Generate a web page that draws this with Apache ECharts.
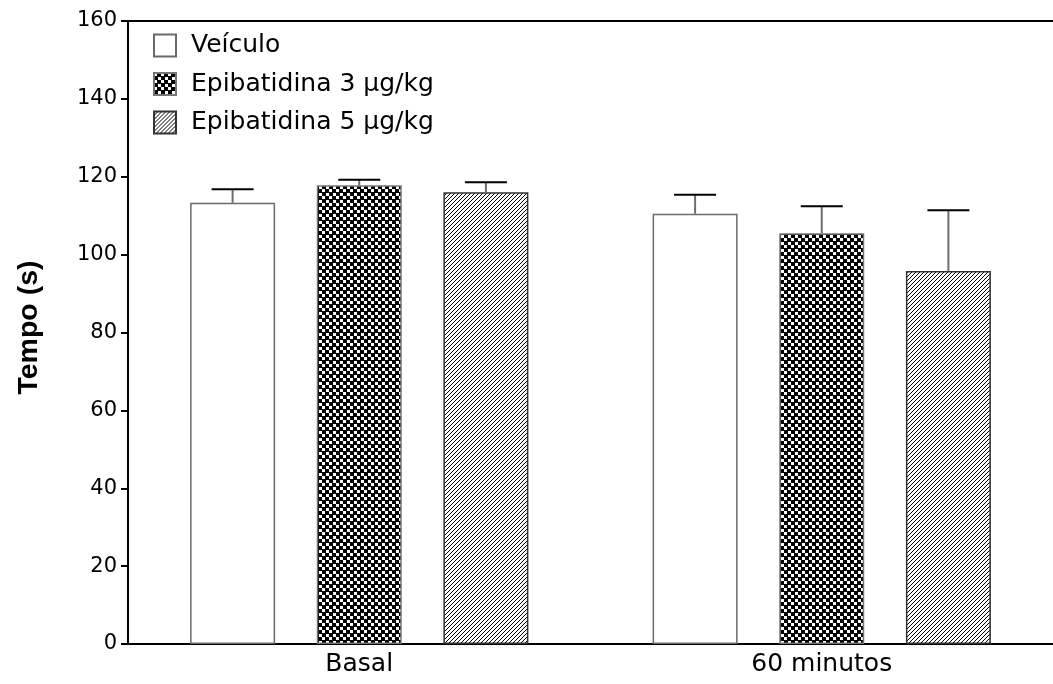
<!DOCTYPE html>
<html>
<head>
<meta charset="utf-8">
<script src="https://cdn.jsdelivr.net/npm/echarts@6/dist/echarts.min.js"></script>
<style>
  html, body { margin: 0; padding: 0; background: #fff; }
  #chart { width: 1053px; height: 684px; }
</style>
</head>
<body>
<div id="chart"></div>
<script>
// Tail-flick latency (mean ± SEM) per treatment group
const categories = ['Basal', '60 minutos'];
const seriesNames = ['Veículo', 'Epibatidina 3 μg/kg', 'Epibatidina 5 μg/kg'];
const veiculo = [113.3, 110.5];
const epi3 = [117.8, 105.5];
const epi5 = [116.0, 95.8];
const veiculoSem = [3.5, 4.9];
const epi3Sem = [1.4, 6.9];
const epi5Sem = [2.6, 15.6];
const yTicks = { min: 0, max: 160, interval: 20 };

const FONT = '"Liberation Sans", Arial, sans-serif';
const WIDE_FONT = '"DejaVu Sans", "Liberation Sans", sans-serif';
const BAR_W = 85;
const BAR_GAP = 0.49;
const CAP_HALF = 21;

// Checkerboard fill: white squares on black
function checkerPattern() {
  const c = document.createElement('canvas');
  c.width = 7; c.height = 7;
  const g = c.getContext('2d');
  g.fillStyle = '#000'; g.fillRect(0, 0, 7, 7);
  g.fillStyle = '#fff';
  g.fillRect(0, 0, 3, 3);
  g.fillRect(4, 4, 3, 3);
  return c;
}

// Diagonal hatch fill, lines rising to the right
function hatchPattern() {
  const c = document.createElement('canvas');
  c.width = 8; c.height = 8;
  const g = c.getContext('2d');
  g.fillStyle = '#fff'; g.fillRect(0, 0, 8, 8);
  g.strokeStyle = '#000'; g.lineWidth = 1;
  for (let k = -3; k <= 3; k++) {
    g.beginPath();
    g.moveTo(k * 4, 8);
    g.lineTo(k * 4 + 8, 0);
    g.stroke();
  }
  return c;
}

const fills = [
  '#ffffff',
  { image: checkerPattern(), repeat: 'repeat' },
  { image: hatchPattern(), repeat: 'repeat' }
];
const borders = ['#6a6a6a', '#777777', '#333333'];
const means = [veiculo, epi3, epi5];
const sems = [veiculoSem, epi3Sem, epi5Sem];

const barSeries = means.map((vals, i) => ({
  type: 'bar',
  name: seriesNames[i],
  data: vals,
  barWidth: BAR_W,
  barGap: (BAR_GAP * 100) + '%',
  itemStyle: { color: fills[i], borderColor: borders[i], borderWidth: 1.5 },
  emphasis: { disabled: true },
  z: 2
}));

// Error bars: grey stem from bar top, black cap at mean + SEM
const errorSeries = means.map((vals, i) => ({
  type: 'custom',
  data: vals.map((v, j) => [j, v, sems[i][j]]),
  encode: { x: 0, y: 1 },
  z: 3,
  silent: true,
  renderItem(params, api) {
    const j = api.value(0);
    const v = api.value(1);
    const e = api.value(2);
    const base = api.coord([j, v]);
    const top = api.coord([j, v + e]);
    const x = base[0] + (i - 1) * BAR_W * (1 + BAR_GAP);
    return {
      type: 'group',
      children: [
        { type: 'line', shape: { x1: x, y1: base[1], x2: x, y2: top[1] },
          style: { stroke: '#6e6e6e', lineWidth: 2 } },
        { type: 'line', shape: { x1: x - CAP_HALF, y1: top[1], x2: x + CAP_HALF, y2: top[1] },
          style: { stroke: '#000', lineWidth: 2 } }
      ]
    };
  }
}));

const chart = echarts.init(document.getElementById('chart'), null, { renderer: 'canvas' });
chart.setOption({
  animation: false,
  backgroundColor: '#fff',
  textStyle: { fontFamily: FONT },
  grid: { left: 128, right: -5, top: 21, bottom: 40, containLabel: false },
  legend: {
    orient: 'vertical',
    left: 148,
    top: 28,
    itemWidth: 22,
    itemHeight: 22,
    itemGap: 13.5,
    icon: 'rect',
    selectedMode: false,
    data: seriesNames,
    textStyle: { fontFamily: WIDE_FONT, fontSize: 25, color: '#000', lineHeight: 22, padding: [0, 0, 0, 10] }
  },
  xAxis: [
    {
      type: 'category',
      data: categories,
      position: 'bottom',
      axisLine: { lineStyle: { color: '#000', width: 2 } },
      axisTick: { alignWithLabel: true, length: 5, lineStyle: { color: '#000', width: 2 } },
      axisLabel: { color: '#000', fontSize: 25, fontFamily: WIDE_FONT, margin: 8 }
    },
    {
      type: 'category',
      data: categories,
      position: 'top',
      axisLine: { lineStyle: { color: '#000', width: 2 } },
      axisTick: { show: false },
      axisLabel: { show: false }
    }
  ],
  yAxis: {
    type: 'value',
    min: yTicks.min,
    max: yTicks.max,
    interval: yTicks.interval,
    name: 'Tempo (s)',
    nameLocation: 'middle',
    nameGap: 84,
    nameTextStyle: { color: '#000', fontSize: 28.5, fontWeight: 'bold', fontFamily: FONT, padding: [0, 0, 0, 10] },
    axisLine: { show: true, lineStyle: { color: '#000', width: 2 } },
    axisTick: { show: true, length: 7, lineStyle: { color: '#000', width: 2 } },
    axisLabel: { color: '#000', fontSize: 21, fontFamily: WIDE_FONT, margin: 11 },
    splitLine: { show: false }
  },
  series: [...barSeries, ...errorSeries]
});
</script>
</body>
</html>
